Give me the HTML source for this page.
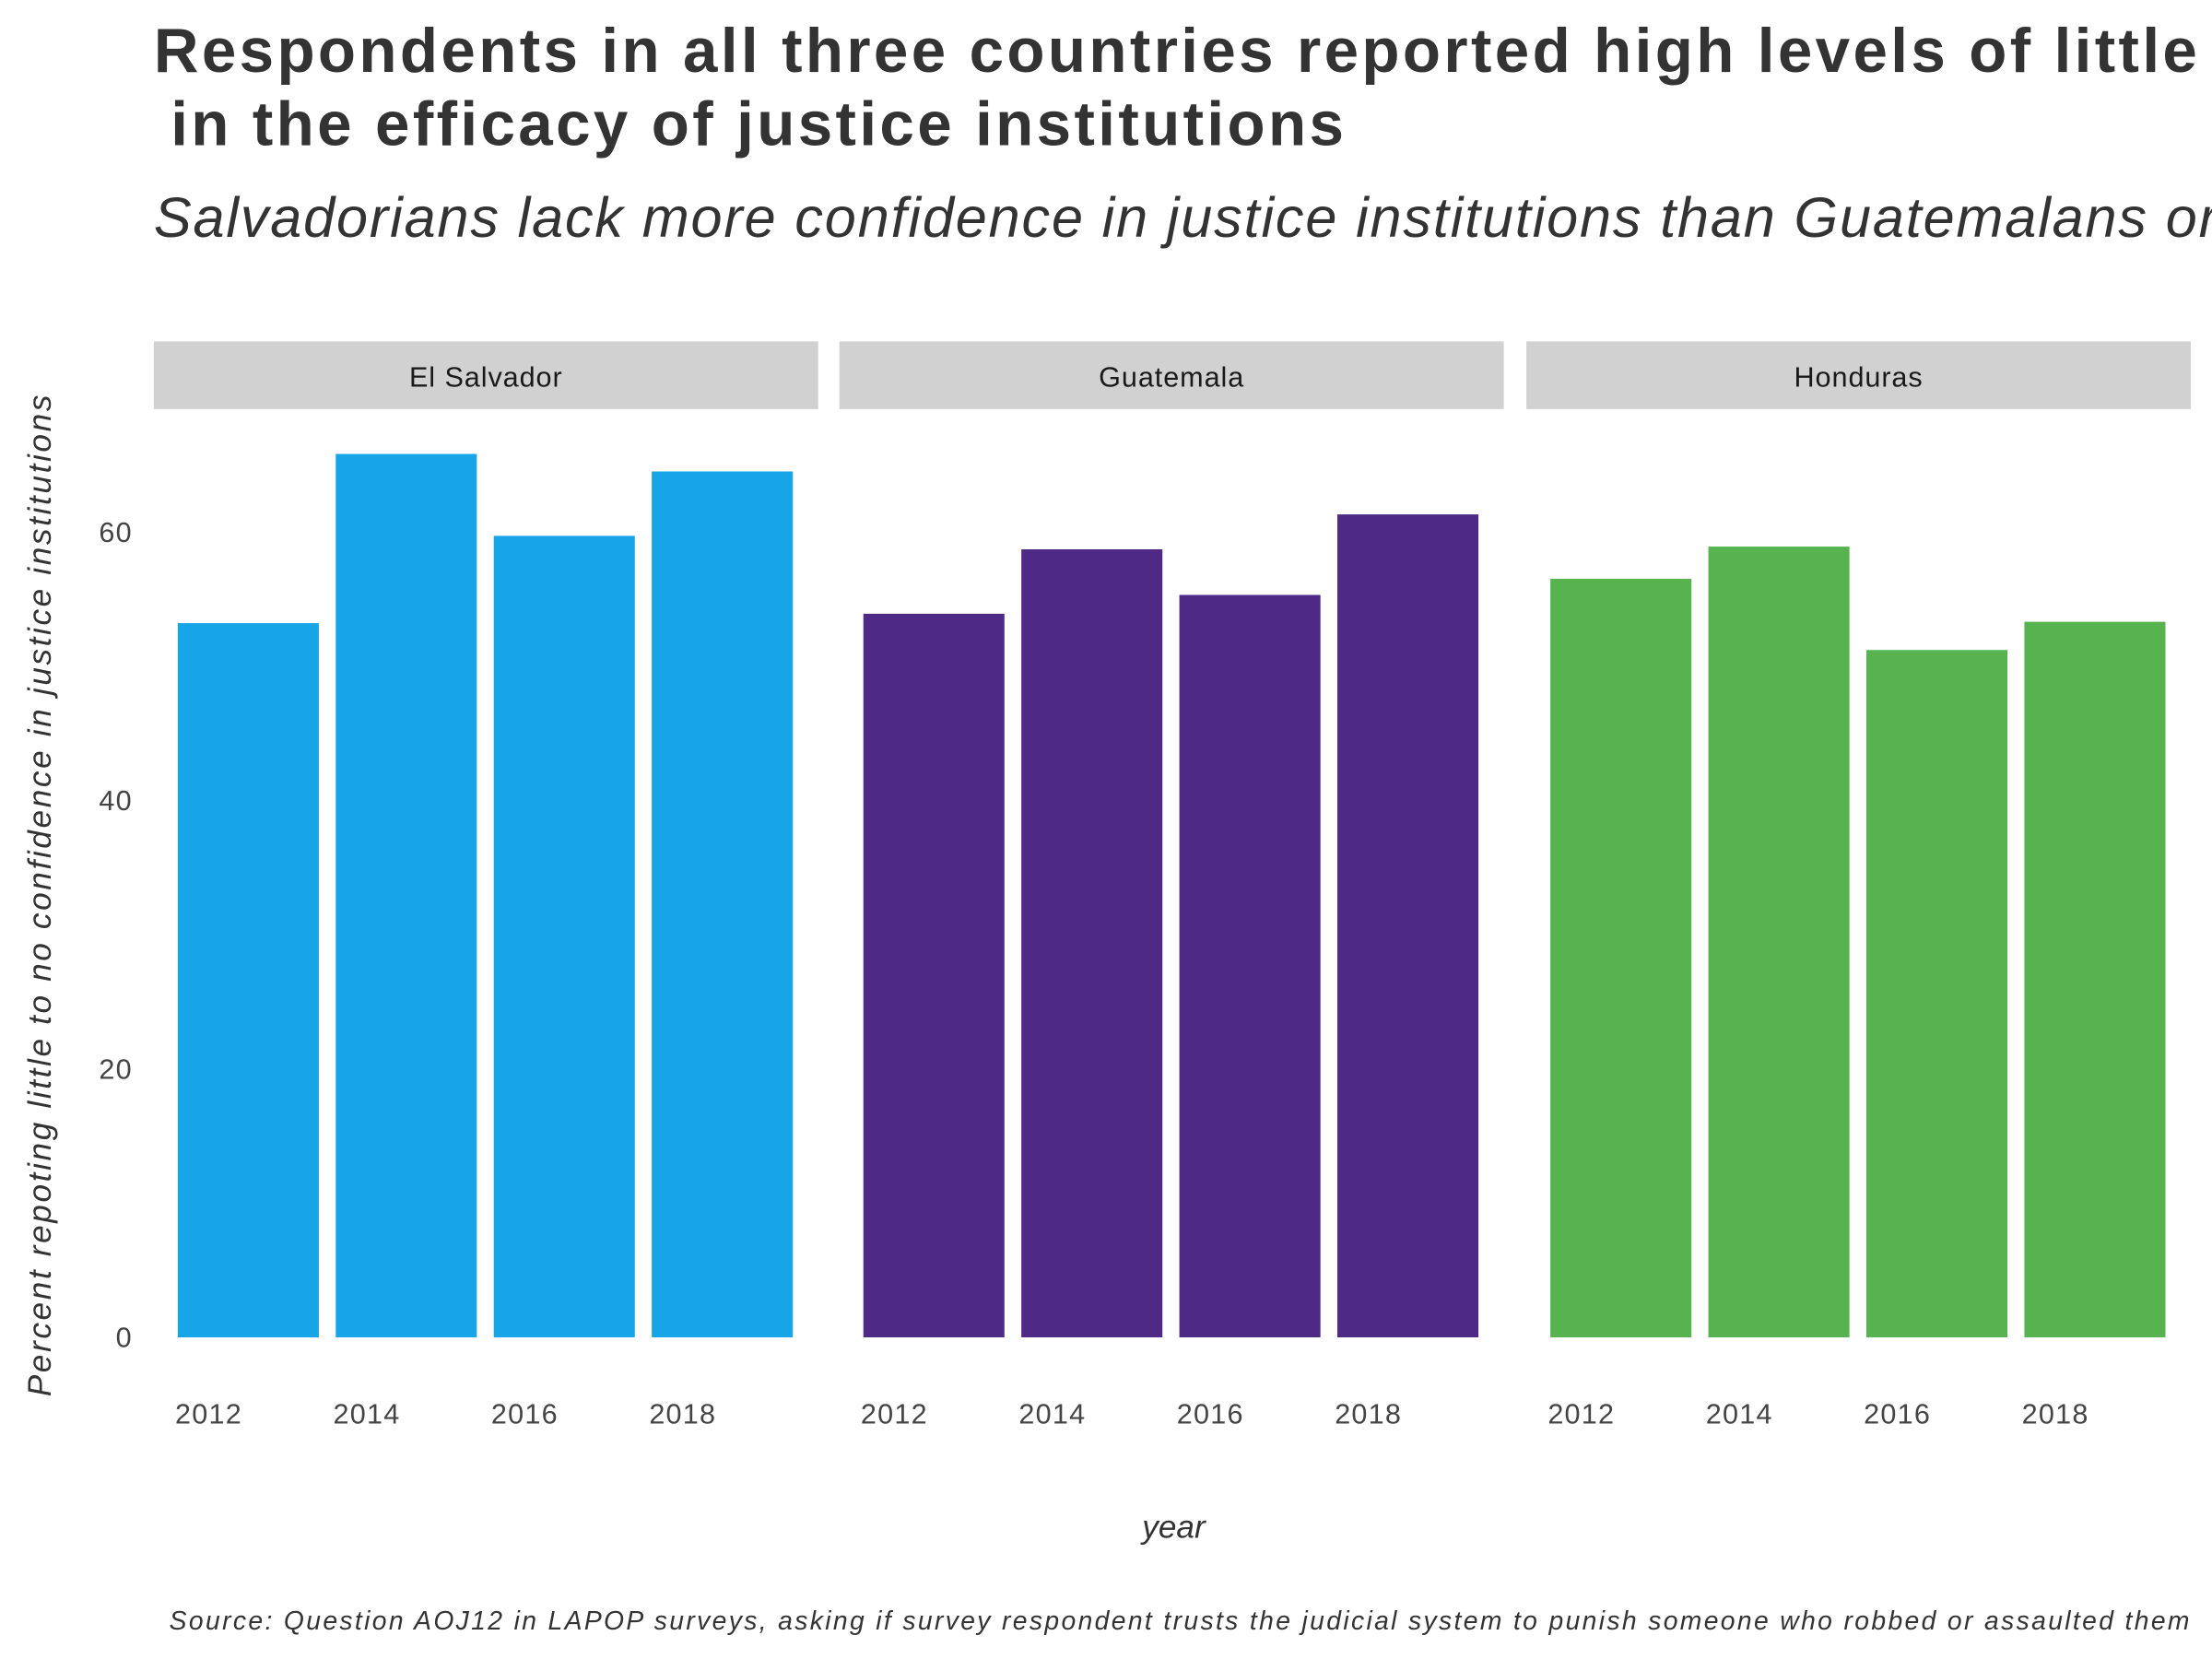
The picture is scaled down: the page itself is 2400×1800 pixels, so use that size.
<!DOCTYPE html>
<html><head><meta charset="utf-8"><style>
html,body{margin:0;padding:0;background:#fff;overflow:hidden}
svg{display:block;font-family:"Liberation Sans",Arial,sans-serif}
</style></head><body>
<svg id="chart" width="2400" height="1800" viewBox="0 0 1568 1176" xmlns="http://www.w3.org/2000/svg">
<rect width="1568" height="1176" fill="#fff"/>
<text x="109" y="51" font-size="44" font-weight="bold" fill="#333" letter-spacing="2.2">Respondents in all three countries reported high levels of little to no confidence</text>
<text x="121" y="103" font-size="44" font-weight="bold" fill="#333" letter-spacing="2.2">in the efficacy of justice institutions</text>
<text x="109" y="168" font-size="40" font-style="italic" fill="#333" letter-spacing="1.2">Salvadorians lack more confidence in justice institutions than Guatemalans or Hondurans</text>
<text transform="translate(36,635) rotate(-90)" text-anchor="middle" font-size="23" font-style="italic" fill="#333" textLength="710" lengthAdjust="spacing">Percent repoting little to no confidence in justice institutions</text>
<text x="832" y="1090" text-anchor="middle" font-size="23" font-style="italic" fill="#333">year</text>
<text x="120" y="1155" font-size="18.5" font-style="italic" fill="#333" textLength="1432" lengthAdjust="spacing">Source: Question AOJ12 in LAPOP surveys, asking if survey respondent trusts the judicial system to punish someone who robbed or assaulted them</text>
<g id="plot"></g>
</svg>
<script>
const countries = ["El Salvador", "Guatemala", "Honduras"];
const years = [2012, 2014, 2016, 2018];
const elSalvador = [53.2, 65.8, 59.7, 64.5];
const guatemala = [53.9, 58.7, 55.3, 61.3];
const honduras = [56.5, 58.9, 51.2, 53.3];
const yTicks = [0, 20, 40, 60];
const colors = ["#17A5E8", "#4E2A86", "#57B34F"];
const series = [elSalvador, guatemala, honduras];

const NS = "http://www.w3.org/2000/svg";
const g = document.getElementById("plot");
const panelX = [109, 595, 1082], panelW = 471;
const y0 = 948, yPer = 571 / 60;
function yScale(v){ return y0 - v * yPer; }
function xScale(p, yr){ return panelX[p] + 67 + (yr - 2012) / 2 * 112; }
function mk(tag, attrs){ const e = document.createElementNS(NS, tag); for (const k in attrs) e.setAttribute(k, attrs[k]); g.appendChild(e); return e; }

yTicks.forEach(t => {
  const e = mk("text", {x: 94, y: yScale(t) + 7, "text-anchor": "end", "font-size": 20, fill: "#444", "letter-spacing": 0.8});
  
  
  e.textContent = t;
});

countries.forEach((c, p) => {
  const s = mk("rect", {x: panelX[p], y: 242, width: panelW, height: 48, fill: "#d1d1d1"});
  
  
  const st = mk("text", {x: panelX[p] + panelW / 2, y: 274, "text-anchor": "middle", "font-size": 20, fill: "#1a1a1a", "letter-spacing": 0.6});
  
  
  st.textContent = c;
  years.forEach((yr, i) => {
    const cx = xScale(p, yr);
    const v = series[p][i];
    const b = mk("rect", {x: cx - 50, y: yScale(v), width: 100, height: y0 - yScale(v), fill: colors[p]});
    
    
    const tl = mk("text", {x: cx - 28, y: 1009, "text-anchor": "middle", "font-size": 20, fill: "#444", "letter-spacing": 0.8});
    
    
    tl.textContent = yr;
  });
});
</script>
</body></html>
